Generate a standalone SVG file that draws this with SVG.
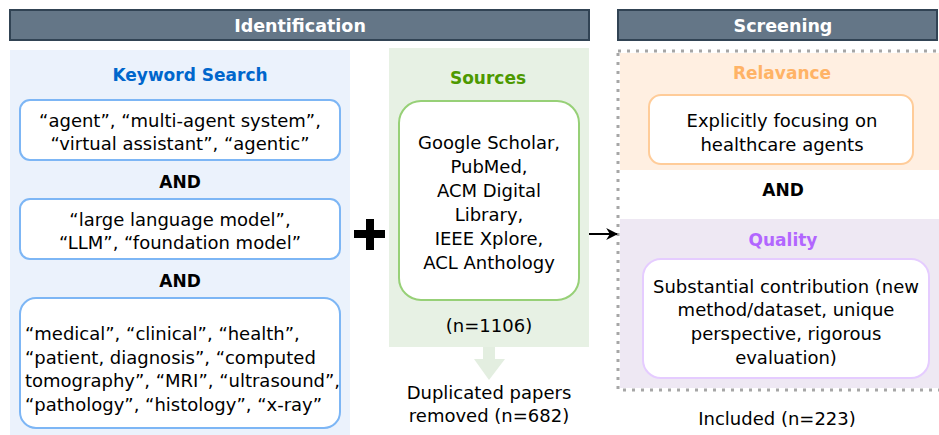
<svg xmlns="http://www.w3.org/2000/svg" width="939" height="435" viewBox="0 0 939 435">
<defs>
<style>
text{font-family:"DejaVu Sans","Liberation Sans",sans-serif;font-size:18px;fill:#000;text-anchor:middle;dominant-baseline:central}
.hdr{fill:#647687;stroke:#314354;stroke-width:2}
.htxt{fill:#fff;font-weight:bold;font-size:17.5px}
.title{font-weight:bold;font-size:17px}
.and{font-weight:bold;font-size:17px}
.box{fill:#fff;stroke-width:2}
.left{text-anchor:start}
</style>
<marker id="ah" viewBox="0 0 10 10" refX="9" refY="5" markerWidth="6" markerHeight="6" orient="auto">
<path d="M0,0 L10,5 L0,10 L3,5 Z" fill="#000"/>
</marker>
</defs>
<rect width="939" height="435" fill="#fff"/>

<g id="identification-header">
<rect class="hdr" x="10" y="10" width="579" height="30"/>
<text class="htxt" x="300" y="26">Identification</text>
</g>
<g id="screening-header">
<rect class="hdr" x="618" y="10" width="319" height="30"/>
<text class="htxt" x="783" y="26">Screening</text>
</g>

<g id="keyword-panel">
<rect x="10" y="50" width="340" height="385" fill="#EBF2FC"/>
<text class="title" x="190" y="75" style="fill:#0066CC">Keyword Search</text>
</g>
<g id="kw1">
<rect class="box" x="20" y="100" width="320" height="60" rx="10" stroke="#7DB6F5"/>
<text x="180" y="120">“agent”, “multi-agent system”,</text>
<text x="180" y="143">“virtual assistant”, “agentic”</text>
</g>
<g id="and1"><text class="and" x="180" y="182">AND</text></g>
<g id="kw2">
<rect class="box" x="20" y="199" width="320" height="60" rx="10" stroke="#7DB6F5"/>
<text x="180" y="219">“large language model”,</text>
<text x="180" y="242">“LLM”, “foundation model”</text>
</g>
<g id="and2"><text class="and" x="180" y="281">AND</text></g>
<g id="kw3">
<rect class="box" x="20" y="298" width="320" height="130" rx="16" stroke="#7DB6F5"/>
<text class="left" x="25" y="333">“medical”, “clinical”, “health”,</text>
<text class="left" x="25" y="357">“patient, diagnosis”, “computed</text>
<text class="left" x="25" y="380">tomography”, “MRI”, “ultrasound”,</text>
<text class="left" x="25" y="404">“pathology”, “histology”, “x-ray”</text>
</g>

<g id="plus">
<rect x="354" y="230" width="31" height="8" fill="#000"/>
<rect x="366" y="219" width="8" height="31" fill="#000"/>
</g>

<g id="sources-panel">
<rect x="389" y="48" width="200" height="299" fill="#E7F1E4"/>
<text class="title" x="488" y="78" style="fill:#4D9900">Sources</text>
</g>
<g id="sources">
<rect class="box" x="399" y="101" width="180" height="199" rx="22" stroke="#97D077"/>
<text x="489" y="142">Google Scholar,</text>
<text x="489" y="166">PubMed,</text>
<text x="489" y="190">ACM Digital</text>
<text x="489" y="214">Library,</text>
<text x="489" y="238">IEEE Xplore,</text>
<text x="489" y="262">ACL Anthology</text>
<text x="489" y="325">(n=1106)</text>
</g>
<g id="dup">
<text x="489" y="392">Duplicated papers</text>
<text x="489" y="415">removed (n=682)</text>
</g>

<g id="screening-frame">
<rect x="618" y="51" width="325" height="339" fill="none" stroke="#A6A6A6" stroke-width="3" stroke-dasharray="3,6"/>
</g>
<g id="relevance-panel">
<rect x="620" y="53" width="319" height="117" fill="#FFEFE1"/>
<text class="title" x="782" y="73" style="fill:#FFB366">Relavance</text>
</g>
<g id="relevance">
<rect class="box" x="649" y="95" width="264" height="69" rx="12" stroke="#FFCC99"/>
<text x="782" y="120">Explicitly focusing on</text>
<text x="782" y="144">healthcare agents</text>
</g>
<g id="and3"><text class="and" x="783" y="190">AND</text></g>
<g id="quality-panel">
<rect x="620" y="219" width="319" height="169" fill="#EEE8F3"/>
<text class="title" x="783" y="240" style="fill:#B266FF">Quality</text>
</g>
<g id="quality">
<rect class="box" x="643" y="259" width="286" height="119" rx="18" stroke="#E5CCFF"/>
<text x="786" y="286">Substantial contribution (new</text>
<text x="786" y="309">method/dataset, unique</text>
<text x="786" y="333">perspective, rigorous</text>
<text x="786" y="357">evaluation)</text>
</g>
<g id="included"><text x="777" y="418">Included (n=223)</text></g>

<g id="connectors">
<path d="M483,347 L495,347 L495,359 L505,359 L489,380 L474,359 L483,359 Z" fill="#E3EEE0"/>
<line x1="589" y1="234" x2="617" y2="234" stroke="#000" stroke-width="2" marker-end="url(#ah)"/>
</g>
</svg>
